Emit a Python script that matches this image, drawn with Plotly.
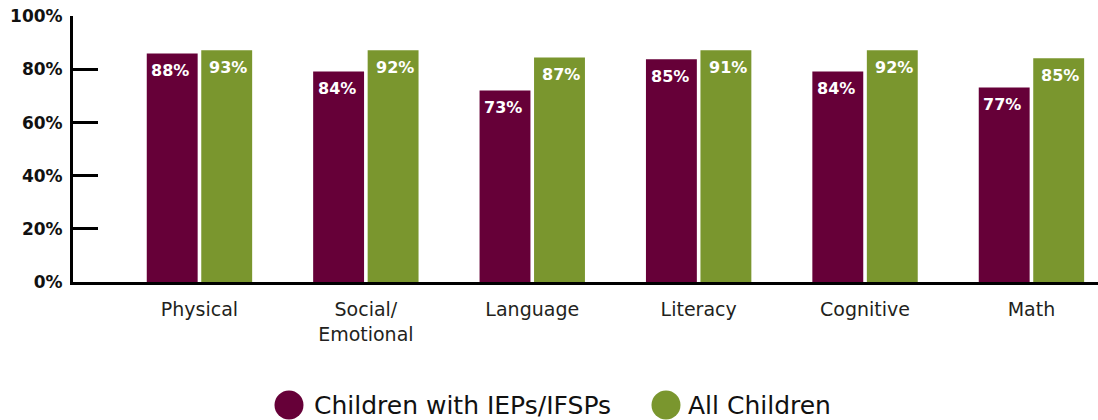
import plotly.graph_objects as go

# ---- data ----
categories = ["Physical", "Social/<br>Emotional", "Language", "Literacy", "Cognitive", "Math"]
iep_heights = [86.0, 79.2, 72.1, 83.8, 79.2, 73.2]      # bar heights as drawn
all_heights = [87.2, 87.2, 84.5, 87.2, 87.2, 84.2]
iep_labels = ["88%", "84%", "73%", "85%", "84%", "77%"]  # printed labels
all_labels = ["93%", "92%", "87%", "91%", "92%", "85%"]
series_names = ["Children with IEPs/IFSPs", "All Children"]
y_tickvals = [0, 20, 40, 60, 80, 100]
y_ticktext = ["0%", "20%", "40%", "60%", "80%", "100%"]

MAROON = "#660038"
GREEN = "#7A962E"
W, H = 1098, 420
L, R, T, B = 73, 0, 16, 420 - 282

fig = go.Figure()
for name, h, col in [(series_names[0], iep_heights, MAROON),
                     (series_names[1], all_heights, GREEN)]:
    fig.add_trace(go.Bar(
        x=categories, y=h, name=name, marker_color=col, marker_line_width=0,
        showlegend=False, hoverinfo="skip"))

# value labels inside the bars, near the top
for h, lab, dx in [(iep_heights, iep_labels, -29), (all_heights, all_labels, 29)]:
    for c, v, t in zip(categories, h, lab):
        fig.add_annotation(x=c, y=v, text=t, showarrow=False,
                           xshift=dx, yshift=-17, yanchor="middle",
                           font=dict(family="DejaVu Sans", size=16, color="white", weight="bold"))

fig.update_layout(
    width=W, height=H, margin=dict(l=L, r=R, t=T, b=B, autoexpand=False),
    paper_bgcolor="white", plot_bgcolor="white",
    barmode="group", bargap=0.345, bargroupgap=0.066,
    showlegend=False,
    xaxis=dict(range=[-0.76, 5.40], showgrid=False, zeroline=False, automargin=False,
               showline=True, linecolor="black", linewidth=3,
               ticks="", tickfont=dict(family="DejaVu Sans", size=19, color="#231f20"),
               ticklabelstandoff=8),
    yaxis=dict(range=[0, 100.1], showgrid=False, zeroline=False, automargin=False,
               showline=True, linecolor="black", linewidth=3,
               tickvals=y_tickvals, ticktext=y_ticktext,
               ticks="inside", ticklen=25, tickwidth=3, tickcolor="black",
               ticklabeloverflow="allow",
               tickfont=dict(family="DejaVu Sans", size=17, color="#111111", weight="bold"),
               ticklabelstandoff=4),
)

# manual legend with large circles (positions given in screen pixels)
pw, ph = W - L - R, H - T - B
def px_x(px):
    return (px - L) / pw
def px_y(py):
    return (H - B - py) / ph

leg_y = 405
for cx, tx, col, name in [(289, 312, MAROON, series_names[0]), (666, 686, GREEN, series_names[1])]:
    fig.add_shape(type="circle", xref="paper", yref="paper",
                  xsizemode="pixel", ysizemode="pixel",
                  xanchor=px_x(cx), yanchor=px_y(leg_y),
                  x0=-14.5, x1=14.5, y0=-14.5, y1=14.5,
                  fillcolor=col, line_width=0)
    fig.add_annotation(xref="paper", yref="paper", x=px_x(tx), y=px_y(leg_y),
                       xanchor="left", yanchor="middle", showarrow=False,
                       text=name, font=dict(family="DejaVu Sans", size=25, color="#111111"))

fig.write_html("out.html", config={"displayModeBar": False},
               post_script="document.body.style.margin='0';")
